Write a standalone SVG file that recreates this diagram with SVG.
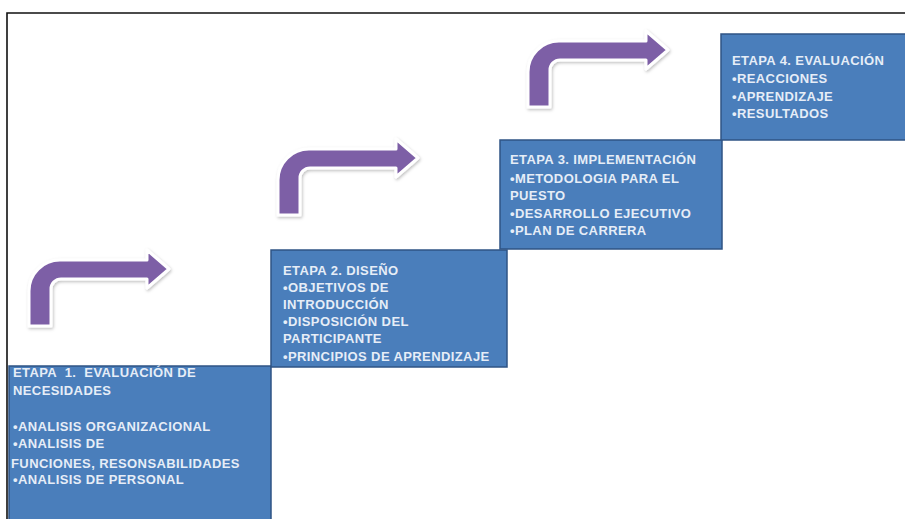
<svg xmlns="http://www.w3.org/2000/svg" width="905" height="519" viewBox="0 0 905 519">
<defs>
<style>
.box{fill:#4A7EBB;stroke:#2F5485;stroke-width:1.5}
.t{font-family:"Liberation Sans",Arial,sans-serif;font-weight:bold;font-size:13px;letter-spacing:0.4px;fill:#E6EDF7;white-space:pre}
.arr{fill:#7D5FA6;stroke:#ffffff;stroke-width:3;stroke-linejoin:round;filter:url(#sh)}
</style>
<filter id="sh" x="-20%" y="-20%" width="140%" height="140%">
<feDropShadow dx="1" dy="1.5" stdDeviation="1.5" flood-color="#000" flood-opacity="0.25"/>
</filter>
<path id="bent" d="M29,326 L29,291 A31,31 0 0 1 60,260 L147,260 L147,250 L169,269 L147,288 L147,279 L61,279 A10,10 0 0 0 51,289 L51,326 Z"/>
</defs>
<rect width="905" height="519" fill="#ffffff"/>
<path d="M7,519 L7,13 L905,13" fill="none" stroke="#111" stroke-width="1.6"/>
<g id="connectors">
<use href="#bent" class="arr"/>
<use href="#bent" class="arr" transform="translate(249,-111)"/>
<use href="#bent" class="arr" transform="translate(499,-219)"/>
</g>
<g id="etapa1">
<rect class="box" x="9" y="366" width="262" height="160"/>
<text class="t" x="13" y="377" xml:space="preserve">ETAPA  1.  EVALUACIÓN DE</text>
<text class="t" x="13" y="395">NECESIDADES</text>
<text class="t" x="13" y="431">•ANALISIS ORGANIZACIONAL</text>
<text class="t" x="13" y="448">•ANALISIS DE</text>
<text class="t" x="11" y="468">FUNCIONES, RESONSABILIDADES</text>
<text class="t" x="13" y="484">•ANALISIS DE PERSONAL</text>
</g>
<g id="etapa2">
<rect class="box" x="271" y="250" width="236" height="117"/>
<text class="t" x="283" y="275">ETAPA 2. DISEÑO</text>
<text class="t" x="283" y="292">•OBJETIVOS DE</text>
<text class="t" x="283" y="309">INTRODUCCIÓN</text>
<text class="t" x="283" y="326">•DISPOSICIÓN DEL</text>
<text class="t" x="283" y="343">PARTICIPANTE</text>
<text class="t" x="283" y="361">•PRINCIPIOS DE APRENDIZAJE</text>
</g>
<g id="etapa3">
<rect class="box" x="500" y="140" width="222" height="109"/>
<text class="t" x="510" y="164">ETAPA 3. IMPLEMENTACIÓN</text>
<text class="t" x="510" y="183">•METODOLOGIA PARA EL</text>
<text class="t" x="510" y="200">PUESTO</text>
<text class="t" x="510" y="218">•DESARROLLO EJECUTIVO</text>
<text class="t" x="510" y="235">•PLAN DE CARRERA</text>
</g>
<g id="etapa4">
<rect class="box" x="721" y="34" width="190" height="106"/>
<text class="t" x="732" y="65">ETAPA 4. EVALUACIÓN</text>
<text class="t" x="732" y="83">•REACCIONES</text>
<text class="t" x="732" y="101">•APRENDIZAJE</text>
<text class="t" x="732" y="118">•RESULTADOS</text>
</g>
</svg>
